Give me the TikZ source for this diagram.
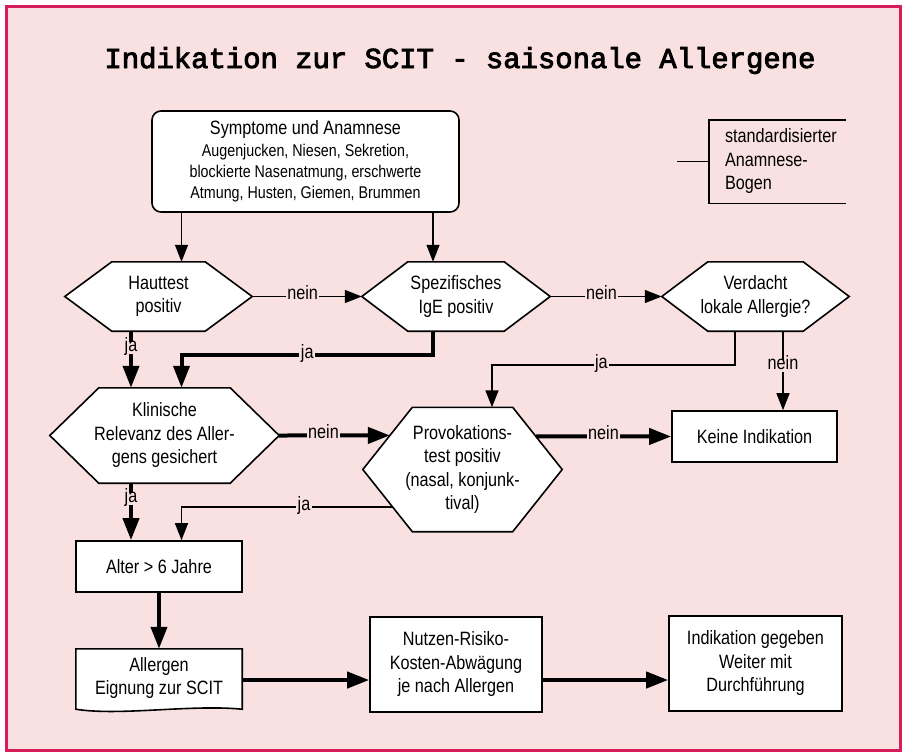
\documentclass[tikz,border=0pt]{standalone}
\usepackage{fontspec}
\setmainfont{Liberation Sans}[FakeStretch=0.84]
\newfontfamily\titlefont{Liberation Mono}[FakeBold=3]
\usetikzlibrary{arrows.meta,calc}

\pgfdeclarelayer{back}
\pgfdeclarelayer{shapes}
\pgfsetlayers{back,shapes,main}

\definecolor{pagebg}{RGB}{249,225,226}
\definecolor{framered}{RGB}{215,30,90}

\newcommand{\fsmain}{\fontsize{19.3}{23.5}\selectfont}
\newcommand{\fsdetail}{\fontsize{17}{21}\selectfont}

% hexagonal decision box drawn around an invisible node: name, inset of the corners
\newcommand{\hexshape}[2]{%
  \coordinate (#1-nw) at ([xshift=#2pt]#1.north west);
  \coordinate (#1-ne) at ([xshift=-#2pt]#1.north east);
  \coordinate (#1-se) at ([xshift=-#2pt]#1.south east);
  \coordinate (#1-sw) at ([xshift=#2pt]#1.south west);
  \begin{pgfonlayer}{shapes}
    \draw[shapeline] (#1.west) -- (#1-nw) -- (#1-ne) -- (#1.east) -- (#1-se) -- (#1-sw) -- cycle;
  \end{pgfonlayer}}

\tikzset{
  frame/.style={fill=pagebg, draw=framered, line width=3pt},
  shapeline/.style={draw=black, fill=white, line width=1.6pt, line join=miter},
  hex/.style={inner sep=0pt, align=center, font=\fsmain},
  proc/.style={draw=black, fill=white, line width=1.6pt, inner sep=0pt, align=center, font=\fsmain},
  symbox/.style={proc, rounded corners=9pt, font=\fsdetail},
  docnode/.style={inner sep=0pt, align=center, font=\fsmain},
  annot/.style={inner xsep=16pt, inner ysep=0pt, text width=105pt, align=left, font=\fsmain},
  plain/.style={line width=1.4pt},
  tarrow/.style={line width=1.4pt, -{Triangle[length=17pt,width=13pt]}},
  karrow/.style={line width=4pt, -{Triangle[length=22pt,width=16pt]}},
  lab/.style={fill=pagebg, inner sep=1.5pt, font=\fsmain, text height=1.45ex, text depth=.3ex},
}

\begin{document}
\begin{tikzpicture}[x=1pt,y=-1pt]
\useasboundingbox (0,0) rectangle (906,753);
\begin{pgfonlayer}{back}
  \fill[white] (0,0) rectangle (906,753);
  \draw[frame] (6.5,6.5) rectangle (900,750.5);
\end{pgfonlayer}

% title
\node[anchor=base, font=\titlefont\fontsize{28.9}{30}\selectfont] (title) at (460,68)
  {Indikation zur SCIT - saisonale Allergene};

% history box and side note
\node[symbox, minimum width=307pt, minimum height=101pt] (sym) at (305.5,161.5)
  {{\fsmain Symptome und Anamnese}\\[1pt]
   Augenjucken, Niesen, Sekretion,\\
   blockierte Nasenatmung, erschwerte\\
   Atmung, Husten, Giemen, Brummen};
\node[annot, minimum height=83pt] (anam) at (777.5,161.5)
  {standardisierter\\Anamnese-\\Bogen};
\draw[plain] (anam.north east) -- (anam.north west) -- (anam.south west) -- (anam.south east);
\coordinate (anamfree) at (677,161.5);
\draw[plain] (anamfree) -- (anam.west);

% decisions
\node[hex, minimum width=187pt, minimum height=69pt] (haut) at (158.5,296.5) {Hauttest\\positiv};
\node[hex, minimum width=188pt, minimum height=69pt] (spez) at (456,296.5) {Spezifisches\\IgE positiv};
\node[hex, minimum width=187pt, minimum height=69pt] (verd) at (755.5,296.5) {Verdacht\\lokale Allergie?};
\node[hex, minimum width=229pt, minimum height=95pt] (klin) at (164.5,435.5) {Klinische\\Relevanz des Aller-\\gens gesichert};
\node[hex, minimum width=199pt, minimum height=124pt] (prov) at (462.5,469.5) {Provokations-\\test positiv\\(nasal, konjunk-\\tival)};
\hexshape{haut}{47}
\hexshape{spez}{46}
\hexshape{verd}{46}
\hexshape{klin}{49}
\hexshape{prov}{49.5}

% outcomes
\node[proc, minimum width=165pt, minimum height=51pt] (keine) at (754.5,436.5) {Keine Indikation};
\node[proc, minimum width=166pt, minimum height=51pt] (alter) at (159,566.5) {Alter > 6 Jahre};
\node[docnode, minimum width=166pt, minimum height=62pt] (allerg) at (159,678) {Allergen\\Eignung zur SCIT};
\begin{pgfonlayer}{shapes}
  \draw[shapeline] ([yshift=-2pt]allerg.north west) -- ([yshift=-2pt]allerg.north east)
    -- (allerg.south east) .. controls ($(allerg.south east)+(-52,-5)$) and ($(allerg.south west)+(44,7)$) .. (allerg.south west) -- cycle;
\end{pgfonlayer}
\node[proc, minimum width=172pt, minimum height=95pt] (nutzen) at (456,664.5) {Nutzen-Risiko-\\Kosten-Abwägung\\je nach Allergen};
\node[proc, minimum width=173pt, minimum height=95pt] (indik) at (755.5,663.5) {Indikation gegeben\\Weiter mit\\Durchführung};

% points where connectors meet the slanted hexagon edges
\coordinate (prov-in) at ($(prov.west)!0.548!(prov-nw)$);
\coordinate (prov-out) at ($(prov-ne)!0.468!(prov.east)$);
\coordinate (prov-ja) at ($(prov.west)!0.605!(prov-sw)$);

% connector columns and rows
\coordinate (cA) at (181.5,0);
\coordinate (cB) at (433,0);
\coordinate (cC) at (131,0);
\coordinate (cD) at (492,0);
\coordinate (cE) at (735,0);
\coordinate (cF) at (783,0);
\coordinate (rSpezJa) at (0,355);
\coordinate (rVerdJa) at (0,365);
\coordinate (rBottom) at (0,680);

% connectors
\draw[tarrow] (sym.south -| cA) -- (haut.north -| cA);
\draw[tarrow] (sym.south -| cB) -- (spez.north -| cB);
\draw[tarrow] (haut.east) -- node[lab,pos=0.46]{nein} (spez.west);
\draw[tarrow] (spez.east) -- node[lab,pos=0.46]{nein} (verd.west);
\draw[karrow] (spez.south -| cB) -- (cB |- rSpezJa) -- node[lab]{ja} (cA |- rSpezJa) -- (klin.north -| cA);
\draw[karrow] (haut.south -| cC) -- node[lab,pos=0.3]{ja} (klin.north -| cC);
\draw[tarrow] (verd.south -| cE) -- (cE |- rVerdJa) -- node[lab,pos=0.55]{ja} (cD |- rVerdJa) -- (prov.north -| cD);
\draw[tarrow] (verd.south -| cF) -- node[lab,pos=0.44]{nein} (keine.north -| cF);
\draw[karrow] (klin.east) -- node[lab,pos=0.4]{nein} (prov-in);
\draw[karrow] (prov-out) -- node[lab]{nein} (keine.west);
\draw[tarrow] (prov-ja) -- node[lab,pos=0.42]{ja} (prov-ja -| cA) -- (alter.north -| cA);
\draw[karrow] (klin.south -| cC) -- node[lab,pos=0.28]{ja} (alter.north -| cC);
\draw[karrow] (alter.south) -- ([yshift=-2pt]allerg.north);
\draw[karrow] (allerg.east |- rBottom) -- (nutzen.west |- rBottom);
\draw[karrow] (nutzen.east |- rBottom) -- (indik.west |- rBottom);
\end{tikzpicture}
\end{document}
